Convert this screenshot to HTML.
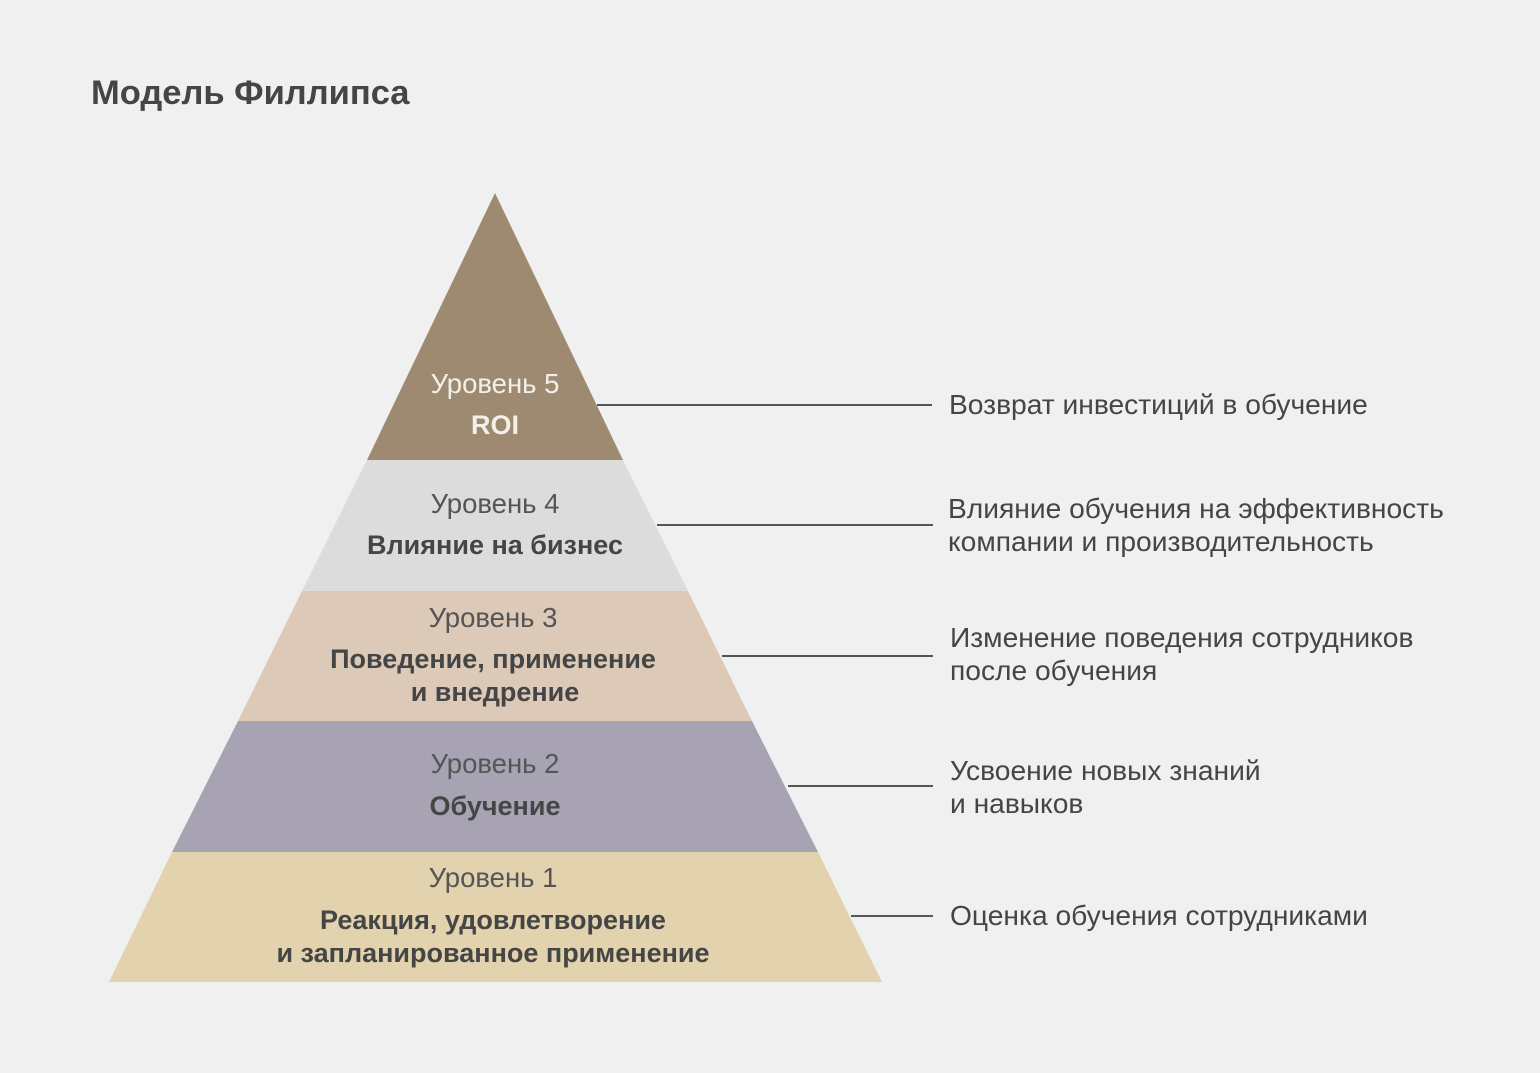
<!DOCTYPE html>
<html><head><meta charset="utf-8"><style>
html,body{margin:0;padding:0;background:#f0f0f0;}
svg{display:block;font-family:"Liberation Sans",sans-serif;}
</style></head><body>
<svg width="1540" height="1073" viewBox="0 0 1540 1073">
<rect width="1540" height="1073" fill="#f0f0f0"/>
<text x="91" y="104" font-size="34.5" font-weight="bold" fill="#454545">Модель Филлипса</text>
<polygon points="495,193 623,460 367,460" fill="#9e8a70"/>
<polygon points="367,460 623,460 688,591 302,591" fill="#dcdcdc"/>
<polygon points="302,591 688,591 752,721 238,721" fill="#dcc9b8"/>
<polygon points="238,721 752,721 818,852 172,852" fill="#a8a3b2"/>
<polygon points="172,852 818,852 882,982 109,982" fill="#e3d2ae"/>
<g stroke="#555" stroke-width="2">
<line x1="597" y1="405" x2="932" y2="405"/>
<line x1="657" y1="525" x2="933" y2="525"/>
<line x1="722" y1="656" x2="933" y2="656"/>
<line x1="788" y1="786" x2="933" y2="786"/>
<line x1="851" y1="916" x2="933" y2="916"/>
</g>
<g text-anchor="middle" font-size="27.5">
<text x="495" y="393" fill="#f3efe9">Уровень 5</text>
<text x="495" y="434" fill="#f3efe9" font-weight="bold" font-size="27">ROI</text>
<text x="495" y="513" fill="#555">Уровень 4</text>
<text x="495" y="554" fill="#454545" font-weight="bold" font-size="27">Влияние на бизнес</text>
<text x="493" y="627" fill="#555">Уровень 3</text>
<text x="493" y="668" fill="#454545" font-weight="bold" font-size="27">Поведение, применение</text>
<text x="495" y="701" fill="#454545" font-weight="bold" font-size="27">и внедрение</text>
<text x="495" y="773" fill="#555">Уровень 2</text>
<text x="495" y="815" fill="#454545" font-weight="bold" font-size="27">Обучение</text>
<text x="493" y="887" fill="#555">Уровень 1</text>
<text x="493" y="929" fill="#454545" font-weight="bold" font-size="27">Реакция, удовлетворение</text>
<text x="493" y="962" fill="#454545" font-weight="bold" font-size="27">и запланированное применение</text>
</g>
<g font-size="28.2" fill="#454545">
<text x="949" y="414">Возврат инвестиций в обучение</text>
<text x="948" y="518">Влияние обучения на эффективность</text>
<text x="948" y="551">компании и производительность</text>
<text x="950" y="647">Изменение поведения сотрудников</text>
<text x="950" y="680">после обучения</text>
<text x="950" y="780">Усвоение новых знаний</text>
<text x="950" y="813">и навыков</text>
<text x="950" y="925">Оценка обучения сотрудниками</text>
</g>
</svg>
</body></html>
